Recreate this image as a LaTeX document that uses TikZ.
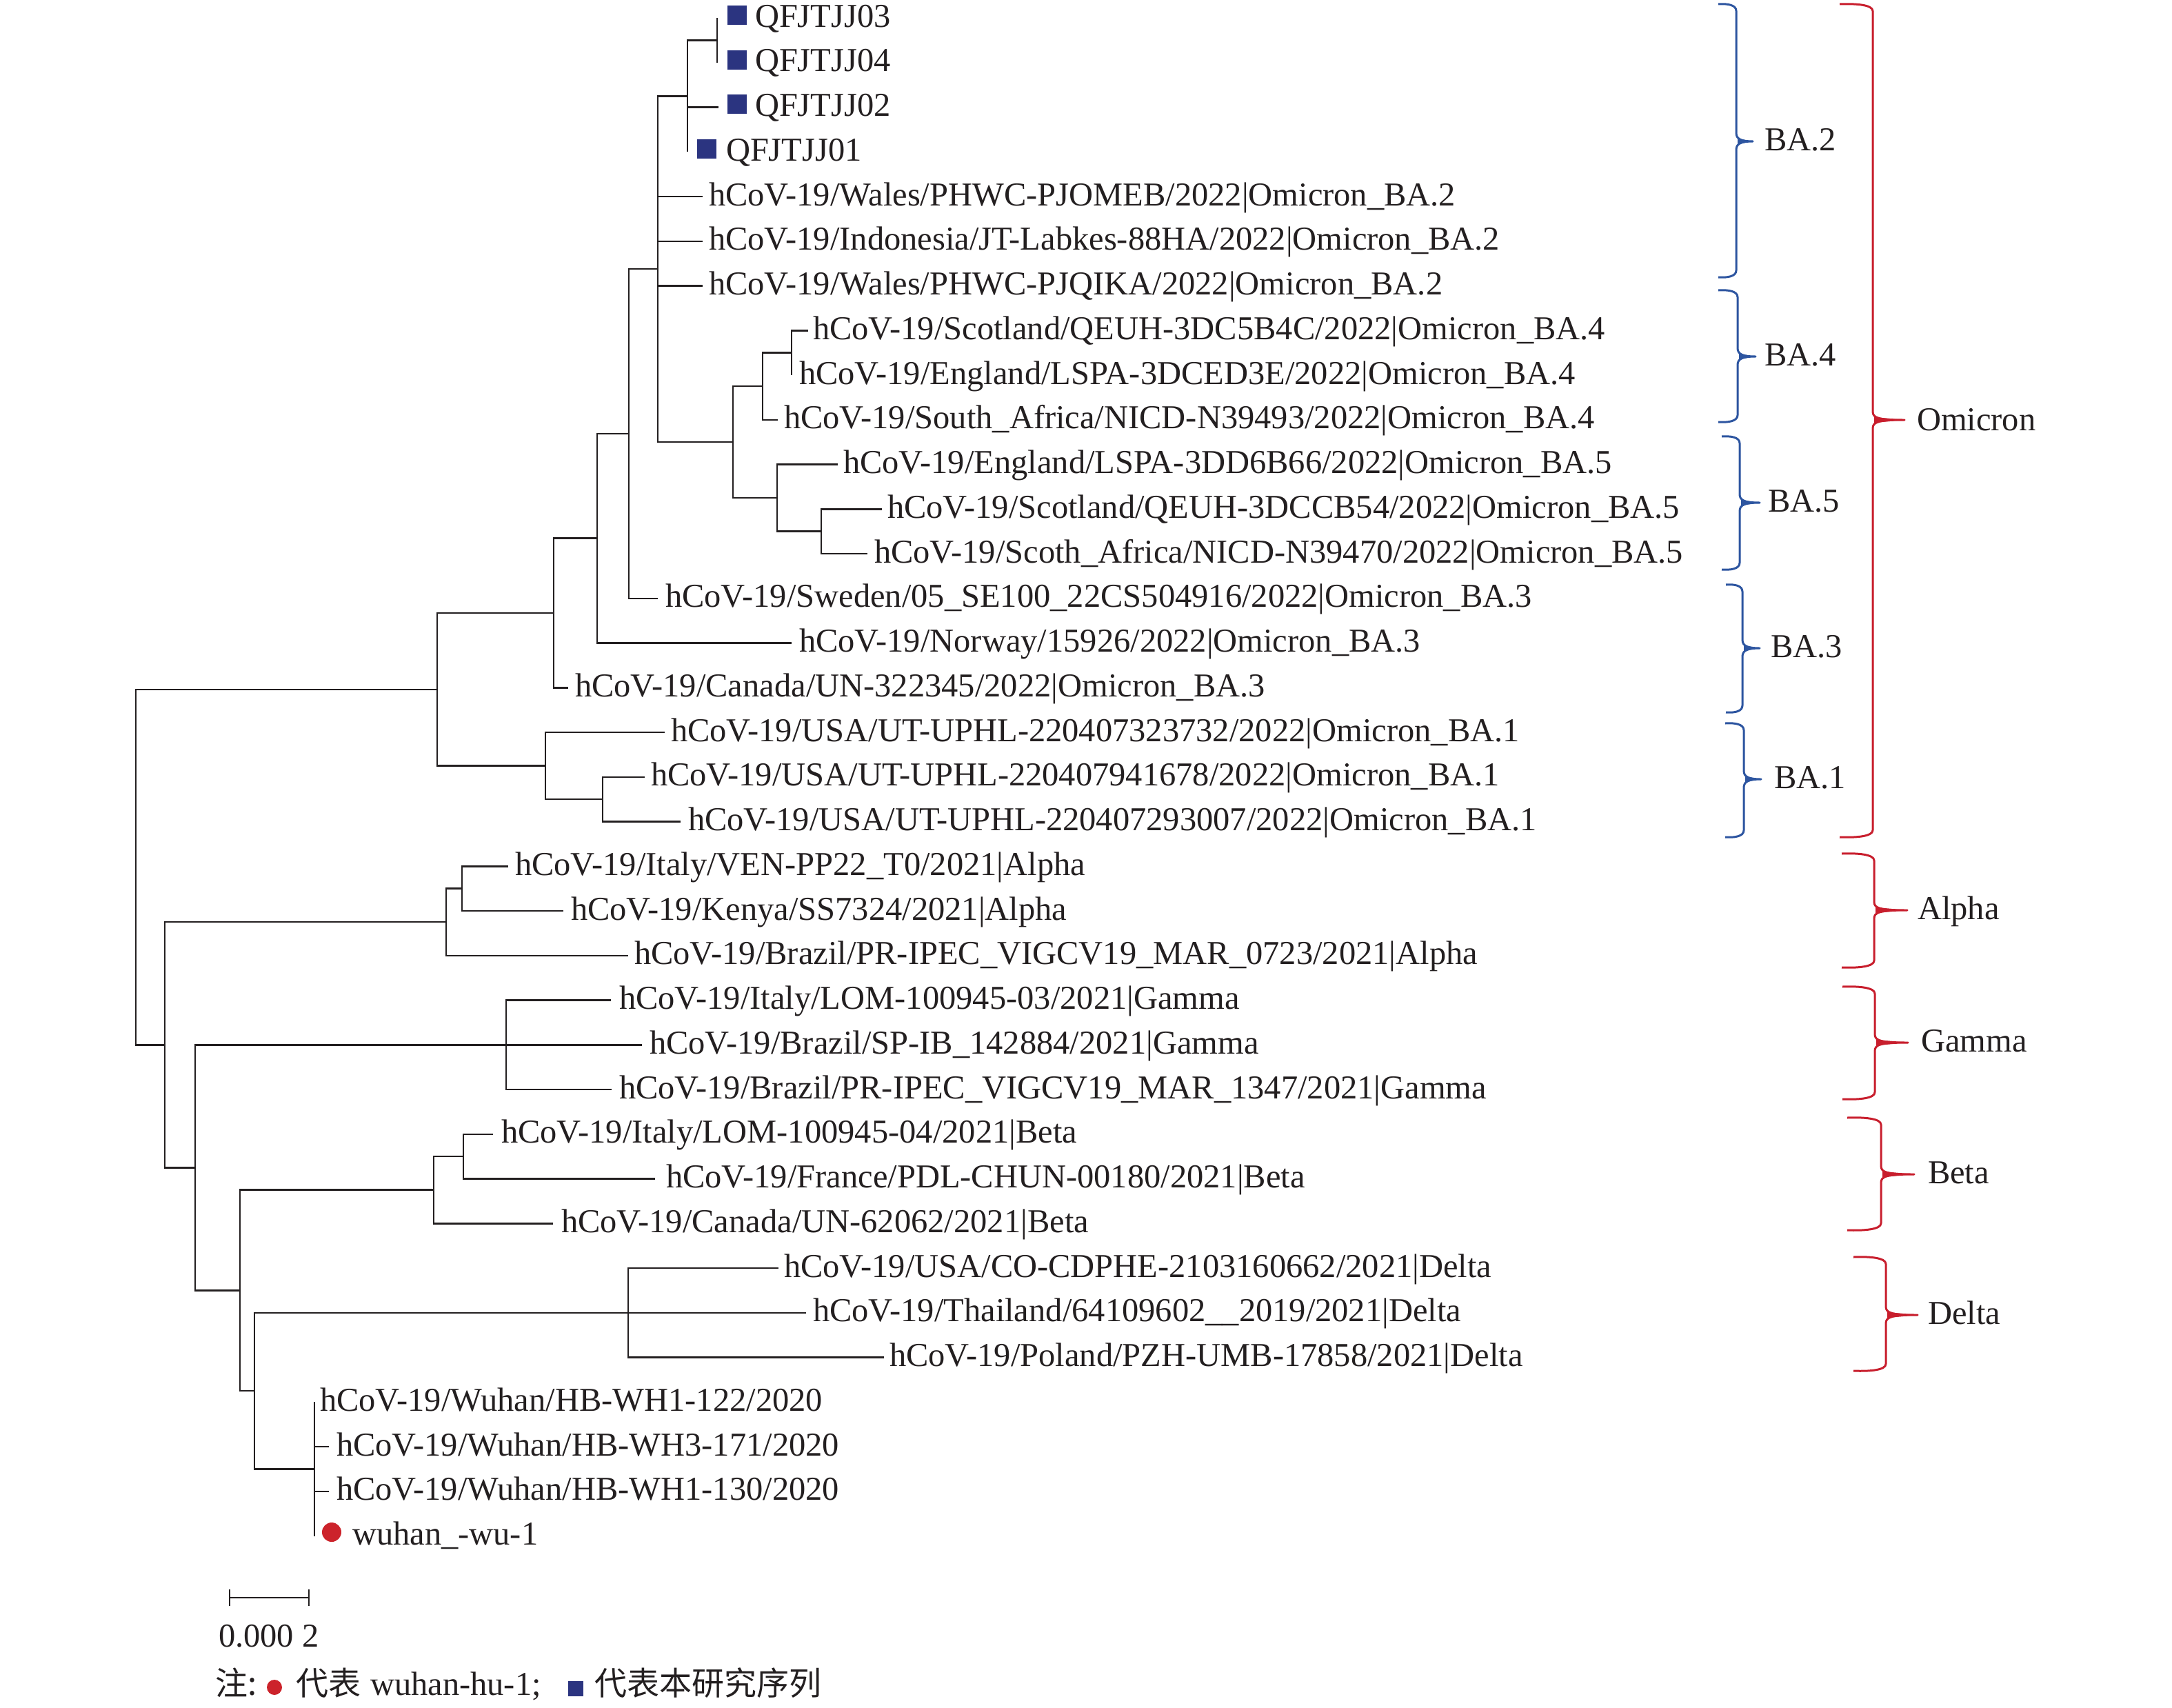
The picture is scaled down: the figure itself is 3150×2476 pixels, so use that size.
\documentclass[tikz,border=0pt]{standalone}
\usepackage{fontspec}
\setmainfont{Liberation Serif}
\newfontfamily\cjk{Noto Sans CJK SC}
\definecolor{ink}{RGB}{35,31,32}
\definecolor{navy}{RGB}{43,52,128}
\definecolor{bred}{RGB}{200,30,45}
\definecolor{bblue}{RGB}{45,85,160}
\definecolor{dotred}{RGB}{204,35,43}
\newcommand{\mybrace}[7]{%
 \draw[#1,line width=3pt,line join=round] (#2,#5) .. controls ({(#2+#3)/2},#5-1) and (#3,#5+1) .. (#3,#5+10) -- (#3,#6-12) .. controls (#3,#6-3) and ({#3+8},#6) .. (#4,#6) .. controls ({#3+8},#6) and (#3,#6+3) .. (#3,#6+12) -- (#3,#7-10) .. controls (#3,#7-1) and ({(#2+#3)/2},#7+1) .. (#2,#7);
 \fill[#1] (#3+2,#6-4) -- (#4,#6) -- (#3+2,#6+4) -- cycle;}
\begin{document}
\begin{tikzpicture}[x=1pt,y=-1pt,
  br/.style={draw=ink,line width=2.5pt},
  lab/.style={anchor=base west,inner sep=0pt,outer sep=0pt,text=ink,font=\fontsize{48.5}{58}\selectfont},
  cjklab/.style={anchor=base west,inner sep=0pt,outer sep=0pt,text=ink,font=\cjk\fontsize{47}{56}\selectfont},
  sq/.style={fill=navy,inner sep=0pt,minimum size=28pt,draw=none}]
\useasboundingbox (0,0) rectangle (3150,2476);
% internal nodes
\coordinate (R) at (197,1257.5);
\coordinate (O) at (634,999.8);
\coordinate (K) at (803,889);
\coordinate (J) at (866,780.7);
\coordinate (I) at (912,629);
\coordinate (C) at (954,390.2);
\coordinate (B) at (997,139.3);
\coordinate (A) at (1040,58.4);
\coordinate (D) at (1063,641.1);
\coordinate (E) at (1106,560.2);
\coordinate (G) at (1148,511.6);
\coordinate (F) at (1127,722.1);
\coordinate (H) at (1191,770.6);
\coordinate (L) at (791,1110.6);
\coordinate (M) at (874,1159.1);
\coordinate (N1) at (239,1515.3);
\coordinate (AL) at (647,1337.2);
\coordinate (AL2) at (670,1288.6);
\coordinate (N2) at (283,1693.3);
\coordinate (GA) at (734,1515.25);
\coordinate (N3) at (348,1871.4);
\coordinate (BE) at (629,1725.7);
\coordinate (BE2) at (672,1677.1);
\coordinate (N4) at (369,2017);
\coordinate (DE) at (911,1903.75);
\coordinate (W) at (456,2130.4);
% internal edges
\foreach \p/\c in {R/O,R/N1,O/K,O/L,K/J,J/I,I/C,C/B,C/D,B/A,D/E,D/F,E/G,F/H,L/M,N1/AL,N1/N2,AL/AL2,N2/GA,N2/N3,N3/BE,N3/N4,BE/BE2,N4/DE,N4/W}
  \draw[br] (\p) |- (\c);
% leaves
\foreach \i/\p/\ex/\tx/\t in {
 1/A/1040/1095/{QFJTJJ03},
 2/A/1040/1095/{QFJTJJ04},
 3/B/1042/1095/{QFJTJJ02},
 4/B/997/1053/{QFJTJJ01},
 5/C/1019/1028/{hCoV-19/Wales/PHWC-PJOMEB/2022|Omicron\_BA.2},
 6/C/1019/1028/{hCoV-19/Indonesia/JT-Labkes-88HA/2022|Omicron\_BA.2},
 7/C/1019/1028/{hCoV-19/Wales/PHWC-PJQIKA/2022|Omicron\_BA.2},
 8/G/1172/1179/{hCoV-19/Scotland/QEUH-3DC5B4C/2022|Omicron\_BA.4},
 9/G/1148/1159/{hCoV-19/England/LSPA-3DCED3E/2022|Omicron\_BA.4},
 10/E/1128/1137/{hCoV-19/South\_Africa/NICD-N39493/2022|Omicron\_BA.4},
 11/F/1215/1223/{hCoV-19/England/LSPA-3DD6B66/2022|Omicron\_BA.5},
 12/H/1279/1287/{hCoV-19/Scotland/QEUH-3DCCB54/2022|Omicron\_BA.5},
 13/H/1258/1268/{hCoV-19/Scoth\_Africa/NICD-N39470/2022|Omicron\_BA.5},
 14/I/954/965/{hCoV-19/Sweden/05\_SE100\_22CS504916/2022|Omicron\_BA.3},
 15/J/1148/1159/{hCoV-19/Norway/15926/2022|Omicron\_BA.3},
 16/K/824/834/{hCoV-19/Canada/UN-322345/2022|Omicron\_BA.3},
 17/L/964/973/{hCoV-19/USA/UT-UPHL-220407323732/2022|Omicron\_BA.1},
 18/M/935/944/{hCoV-19/USA/UT-UPHL-220407941678/2022|Omicron\_BA.1},
 19/M/987/998/{hCoV-19/USA/UT-UPHL-220407293007/2022|Omicron\_BA.1},
 20/AL2/737/747/{hCoV-19/Italy/VEN-PP22\_T0/2021|Alpha},
 21/AL2/817/828/{hCoV-19/Kenya/SS7324/2021|Alpha},
 22/AL/911/920/{hCoV-19/Brazil/PR-IPEC\_VIGCV19\_MAR\_0723/2021|Alpha},
 23/GA/886/898/{hCoV-19/Italy/LOM-100945-03/2021|Gamma},
 24/GA/931/942/{hCoV-19/Brazil/SP-IB\_142884/2021|Gamma},
 25/GA/887/898/{hCoV-19/Brazil/PR-IPEC\_VIGCV19\_MAR\_1347/2021|Gamma},
 26/BE2/715/727/{hCoV-19/Italy/LOM-100945-04/2021|Beta},
 27/BE2/950/966/{hCoV-19/France/PDL-CHUN-00180/2021|Beta},
 28/BE/802/814/{hCoV-19/Canada/UN-62062/2021|Beta},
 29/DE/1129/1137/{hCoV-19/USA/CO-CDPHE-2103160662/2021|Delta},
 30/DE/1169/1179/{hCoV-19/Thailand/64109602\_\_2019/2021|Delta},
 31/DE/1282/1290/{hCoV-19/Poland/PZH-UMB-17858/2021|Delta},
 32/W/456/464/{hCoV-19/Wuhan/HB-WH1-122/2020},
 33/W/477/488/{hCoV-19/Wuhan/HB-WH3-171/2020},
 34/W/477/488/{hCoV-19/Wuhan/HB-WH1-130/2020},
 35/W/456/511/{wuhan\_-wu-1}}
{
  \coordinate (e\i) at (\ex,{26+64.75*(\i-1)});
  \draw[br] (\p) |- (e\i);
  \node[lab] (t\i) at (\tx,{26+64.75*(\i-1)+13}) {\t};
}
% markers
\node[sq] (s1) at (1069,22) {};
\node[sq] (s2) at (1069,87) {};
\node[sq] (s3) at (1069,151) {};
\node[sq] (s4) at (1025,216) {};
\fill[dotred] (481,2222) circle (14pt);
% clade braces
\mybrace{bblue}{2492}{2518}{2542}{6}{205}{402}
\mybrace{bblue}{2492}{2520}{2546}{421}{517}{612}
\mybrace{bblue}{2497}{2523}{2552}{633}{729}{826}
\mybrace{bblue}{2503}{2527}{2552}{848}{940}{1033}
\mybrace{bblue}{2502}{2529}{2554}{1049}{1130}{1214}
\mybrace{bred}{2668}{2716}{2762}{6}{609}{1214}
\mybrace{bred}{2671}{2718}{2766}{1238}{1320}{1403}
\mybrace{bred}{2672}{2719}{2767}{1431}{1512}{1594}
\mybrace{bred}{2679}{2728}{2776}{1621}{1703}{1784}
\mybrace{bred}{2688}{2735}{2781}{1823}{1907}{1988}
\node[lab] (cBA2) at (2559,218) {BA.2};
\node[lab] (cBA4) at (2559,530) {BA.4};
\node[lab] (cBA5) at (2564,742) {BA.5};
\node[lab] (cBA3) at (2568,953) {BA.3};
\node[lab] (cBA1) at (2573,1143) {BA.1};
\node[lab] (cOmi) at (2780,624) {Omicron};
\node[lab] (cAlp) at (2781,1333) {Alpha};
\node[lab] (cGam) at (2786,1525) {Gamma};
\node[lab] (cBet) at (2796,1716) {Beta};
\node[lab] (cDel) at (2796,1920) {Delta};
% scale bar
\coordinate (sb1) at (333,2317);
\coordinate (sb2) at (448,2317);
\draw[draw=ink,line width=2.4pt] (sb1) -- (sb2);
\draw[draw=ink,line width=2.4pt] (sb1) ++(0,-12) -- ++(0,24);
\draw[draw=ink,line width=2.4pt] (sb2) ++(0,-12) -- ++(0,24);
\node[lab] (sbl) at (317,2388) {0.000 2};
% legend
\node[cjklab] (n1) at (312,2458) {注:};
\fill[dotred] (398,2447) circle (11pt);
\node[cjklab] (n2) at (429,2458) {代表};
\node[lab] (n3) at (537,2458) {wuhan-hu-1;};
\node[sq,minimum size=22pt] (n4) at (835,2449) {};
\node[cjklab] (n5) at (862,2458) {代表本研究序列};
\end{tikzpicture}
\end{document}
